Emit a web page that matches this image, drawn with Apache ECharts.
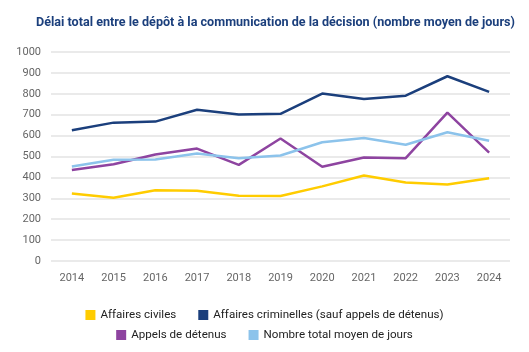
<!DOCTYPE html>
<html>
<head>
<meta charset="utf-8">
<script src="https://cdn.jsdelivr.net/npm/echarts@6/dist/echarts.min.js"></script>
<style>
  html, body { margin: 0; padding: 0; background: #fff; }
  #chart { width: 529px; height: 352px; }
</style>
</head>
<body>
<div id="chart"></div>
<script>
  // données
  var annees = ['2014', '2015', '2016', '2017', '2018', '2019', '2020', '2021', '2022', '2023', '2024'];
  var civiles = [323, 303, 339, 336, 312, 311, 357, 409, 376, 366, 396];
  var criminelles = [626, 662, 667, 724, 701, 704, 801, 775, 791, 884, 809];
  var detenus = [435, 463, 510, 538, 460, 586, 451, 495, 492, 710, 519];
  var total = [452, 484, 486, 514, 492, 505, 568, 589, 556, 616, 575];

  var couleurs = ['#FFCC00', '#1B3F7C', '#8E44A0', '#8CC3EB'];
  var police = 'Roboto, "Noto Sans", sans-serif';

  var chart = echarts.init(document.getElementById('chart'));

  function ligne(nom, data) {
    return {
      name: nom,
      type: 'line',
      data: data,
      symbol: 'none',
      lineStyle: { width: 2.5 },
      animation: false
    };
  }

  var legendeCommune = {
    icon: 'rect',
    itemWidth: 10,
    itemHeight: 10,
    itemGap: 22,
    left: 'center',
    textStyle: { fontFamily: police, fontSize: 11.6, color: '#222' }
  };

  var option = {
    color: couleurs,
    title: {
      text: 'Délai total entre le dépôt à la communication de la décision (nombre moyen de jours)',
      left: 31,
      top: 11,
      textStyle: { fontFamily: police, fontSize: 12.6, fontWeight: 'bold', color: '#1B3F7C' }
    },
    legend: [
      Object.assign({}, legendeCommune, { top: 304, data: ['Affaires civiles', 'Affaires criminelles (sauf appels de détenus)'] }),
      Object.assign({}, legendeCommune, { top: 324, data: ['Appels de détenus', 'Nombre total moyen de jours'] })
    ],
    grid: { left: 51, right: 19, top: 52, bottom: 91 },
    xAxis: {
      type: 'category',
      data: annees,
      axisLine: { show: false },
      axisTick: { show: false },
      axisLabel: { fontFamily: police, fontSize: 11, color: '#666', margin: 12 }
    },
    yAxis: {
      type: 'value',
      min: 0,
      max: 1000,
      interval: 100,
      axisLabel: { fontFamily: police, fontSize: 11, color: '#666', margin: 10, formatter: function (v) { return String(v); } },
      splitLine: { lineStyle: { color: '#e3e3e3', width: 1.5 } }
    },
    series: [
      ligne('Affaires civiles', civiles),
      ligne('Affaires criminelles (sauf appels de détenus)', criminelles),
      ligne('Appels de détenus', detenus),
      ligne('Nombre total moyen de jours', total)
    ]
  };

  chart.setOption(option);
</script>
</body>
</html>
